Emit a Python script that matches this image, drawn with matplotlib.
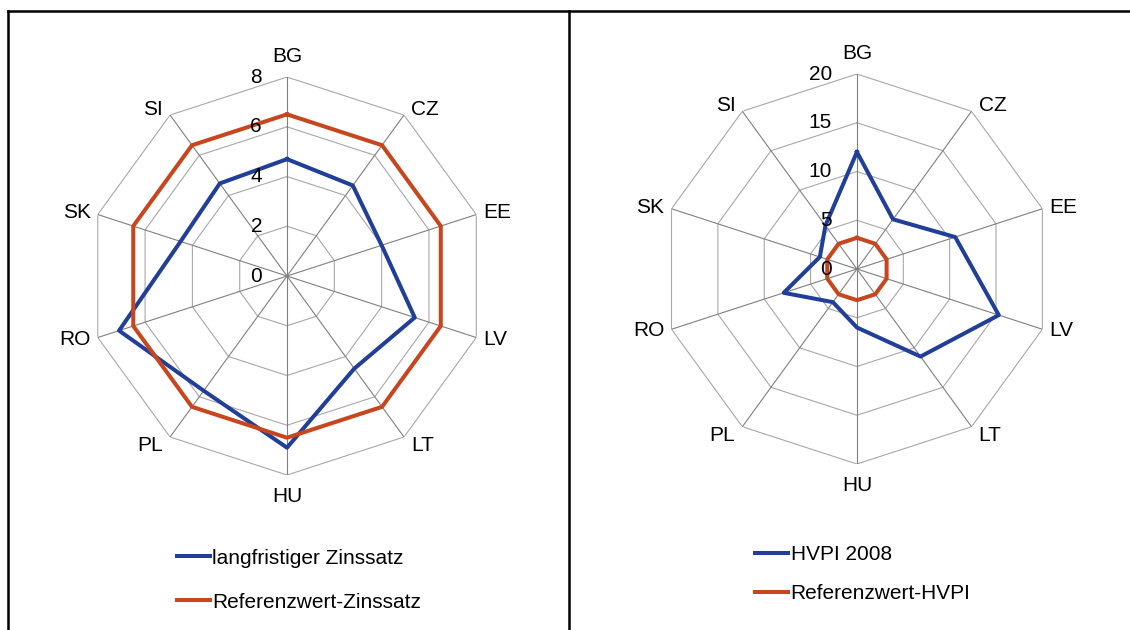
import numpy as np
import matplotlib
matplotlib.use("Agg")
import matplotlib.pyplot as plt
from matplotlib.lines import Line2D
from matplotlib.transforms import offset_copy

plt.rcParams['font.family'] = ['Liberation Sans', 'DejaVu Sans']

# data
countries = ["BG", "CZ", "EE", "LV", "LT", "HU", "PL", "RO", "SK", "SI"]
zins = [4.7, 4.5, 4.0, 5.4, 4.6, 6.9, 5.7, 7.1, 4.5, 4.6]
zins_ref = [6.5] * 10
hvpi = [12.0, 6.3, 10.6, 15.3, 11.1, 6.0, 4.2, 7.9, 4.0, 5.5]
hvpi_ref = [3.2] * 10
zins_ticks = [0, 2, 4, 6, 8]
hvpi_ticks = [0, 5, 10, 15, 20]

blue = '#213E98'
red = '#C8461D'

fig = plt.figure(figsize=(11.3, 6.3), dpi=100)


def radar(rect, series, labels, ticks):
    ax = fig.add_axes(rect, projection='polar')
    ax.set_theta_zero_location('N')
    ax.set_theta_direction(-1)
    n = len(countries)
    ang = np.arange(n) * 2 * np.pi / n
    closed = np.append(ang, ang[0])
    rmax = ticks[-1]
    ax.set_ylim(0, rmax)
    ax.grid(False)
    ax.spines['polar'].set_visible(False)
    ax.set_yticks([])
    ax.set_xticks([])
    # rings
    for t in ticks[1:]:
        ax.plot(closed, [t] * (n + 1), color='#A8A8A8', lw=0.8, zorder=1)
    # spokes
    for a in ang:
        ax.plot([a, a], [0, rmax], color='#808080', lw=0.8, zorder=1)
    # series
    for vals, col, lab in zip(series, [blue, red], labels):
        ax.plot(closed, list(vals) + [vals[0]], color=col, lw=2.9, label=lab, zorder=3)
    # category labels, placed next to the outer vertex like excel does
    for a, name in zip(ang, countries):
        s, c = np.sin(a), np.cos(a)
        if abs(s) < 1e-6:
            ha, dx = 'center', 0
        else:
            ha = 'left' if s > 0 else 'right'
            dx = 7 * np.sign(s)
        if c > 0.9:
            va, dy = 'baseline', 15
        elif c < -0.9:
            va, dy = 'top', -12
        elif c > 0.5:
            va, dy = 'baseline', 0
        elif c < -0.5:
            va, dy = 'top', 1
        else:
            va, dy = 'center', 5 * c
        tr = offset_copy(ax.transData, fig=fig, x=dx, y=dy, units='dots')
        ax.text(a, rmax, name, transform=tr, ha=ha, va=va, fontsize=15, clip_on=False)
    tr = offset_copy(ax.transData, fig=fig, x=-25, y=0, units='dots')
    for t in ticks:
        ax.text(0, t, str(t), transform=tr, ha='right', va='center', fontsize=15, zorder=4)
    return ax


ax1 = radar([0.0779, 0.246, 0.3522, 0.6317], [zins, zins_ref],
            ["langfristiger Zinssatz", "Referenzwert-Zinssatz"], zins_ticks)
ax2 = radar([0.5858, 0.2635, 0.3451, 0.619], [hvpi, hvpi_ref],
            ["HVPI 2008", "Referenzwert-HVPI"], hvpi_ticks)

h, l = ax1.get_legend_handles_labels()
fig.legend(h, l, loc='center left', bbox_to_anchor=(0.147, 0.079), frameon=False,
           fontsize=15, handlelength=1.6, handletextpad=0.1, borderpad=0,
           labelspacing=1.2)
h, l = ax2.get_legend_handles_labels()
fig.legend(h, l, loc='center left', bbox_to_anchor=(0.659, 0.089), frameon=False,
           fontsize=15, handlelength=1.6, handletextpad=0.1, borderpad=0,
           labelspacing=0.95)

# frame lines
ytop = 1 - 11 / 630
fig.add_artist(Line2D([8 / 1130, 1], [ytop, ytop], color='black', lw=1.8))
fig.add_artist(Line2D([8 / 1130, 8 / 1130], [0, ytop], color='black', lw=1.8))
fig.add_artist(Line2D([569 / 1130, 569 / 1130], [0, ytop], color='black', lw=1.8))

fig.savefig('out.png', dpi=100)
